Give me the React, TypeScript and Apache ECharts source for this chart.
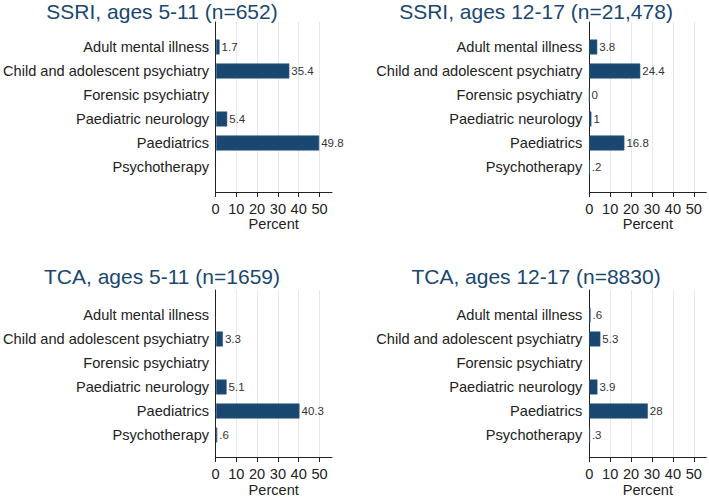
import React, { useEffect, useRef } from "react";
import * as echarts from "echarts";

const categories = [
  "Adult mental illness",
  "Child and adolescent psychiatry",
  "Forensic psychiatry",
  "Paediatric neurology",
  "Paediatrics",
  "Psychotherapy",
];

const panelTitles = [
  "SSRI, ages 5-11 (n=652)",
  "SSRI, ages 12-17 (n=21,478)",
  "TCA, ages 5-11 (n=1659)",
  "TCA, ages 12-17 (n=8830)",
];

const ssri511 = [1.7, 35.4, null, 5.4, 49.8, null];
const ssri1217 = [3.8, 24.4, 0, 1, 16.8, 0.2];
const tca511 = [null, 3.3, null, 5.1, 40.3, 0.6];
const tca1217 = [0.6, 5.3, null, 3.9, 28, 0.3];

const xTicks = [0, 10, 20, 30, 40, 50];
const xMax = 56;

const panelValues = [ssri511, ssri1217, tca511, tca1217];

const FONT = "'Liberation Sans', Arial, sans-serif";
const NAVY = "#1a476f";
const TEXT = "#222222";
const FS = 14.6;

// layout per panel: axis x position, top, bottom, width, title centre x
const layouts = [
  { x0: 215.5, top: 22, bottom: 192, width: 116.5, tx: 162, ttop: 0 },
  { x0: 589.3, top: 22, bottom: 192, width: 117, tx: 536, ttop: 0 },
  { x0: 215.5, top: 290, bottom: 460, width: 116.5, tx: 162, ttop: 265 },
  { x0: 589.3, top: 290, bottom: 460, width: 117, tx: 536, ttop: 265 },
];

function fmt(p: any) {
  const v = Array.isArray(p.value) ? p.value[0] : p.value;
  if (v === null || v === undefined || v === "-") return "";
  let s = String(v);
  if (s.startsWith("0.")) s = s.slice(1);
  return s;
}

function buildOption() {
  const grid: any[] = [];
  const xAxis: any[] = [];
  const yAxis: any[] = [];
  const series: any[] = [];
  const title: any[] = [];

  layouts.forEach((L, i) => {
    const h = L.bottom - L.top;
    grid.push({ left: L.x0, top: L.top, width: L.width, height: h, containLabel: false });
    grid.push({ left: L.x0, top: L.top + 13, width: L.width, height: 144, containLabel: false });

    xAxis.push({
      gridIndex: i * 2,
      type: "value",
      min: 0,
      max: xMax,
      interval: 10,
      axisLine: { show: true, lineStyle: { color: TEXT, width: 1 } },
      axisTick: { show: true, length: 5, customValues: xTicks, lineStyle: { color: TEXT } },
      axisLabel: {
        show: true,
        customValues: xTicks,
        fontSize: FS,
        fontFamily: FONT,
        color: TEXT,
        margin: 9,
      },
      splitLine: { show: true, lineStyle: { color: "#e1ebee", width: 1 } },
      name: "Percent",
      nameLocation: "middle",
      nameGap: 22,
      nameTextStyle: { fontSize: FS, fontFamily: FONT, color: TEXT },
    });
    xAxis.push({
      gridIndex: i * 2 + 1,
      type: "value",
      min: 0,
      max: xMax,
      show: false,
    });
    yAxis.push({
      gridIndex: i * 2,
      type: "value",
      min: 0,
      max: 1,
      axisLine: { show: true, lineStyle: { color: TEXT, width: 1 } },
      axisTick: { show: false },
      axisLabel: { show: false },
      splitLine: { show: false },
    });
    yAxis.push({
      gridIndex: i * 2 + 1,
      type: "category",
      inverse: true,
      data: categories,
      axisLine: { show: false },
      axisTick: { show: false },
      axisLabel: {
        show: true,
        fontSize: FS,
        fontFamily: FONT,
        color: TEXT,
        margin: 7,
      },
      splitLine: { show: false },
    });
    series.push({
      type: "bar",
      xAxisIndex: i * 2 + 1,
      yAxisIndex: i * 2 + 1,
      data: panelValues[i],
      barWidth: 15,
      itemStyle: { color: NAVY, borderColor: "#2b5a85", borderWidth: 0.6 },
      label: {
        show: true,
        position: "right",
        distance: 2,
        fontSize: 11.5,
        fontFamily: FONT,
        color: "#333333",
        formatter: fmt,
      },
    });
    title.push({
      text: panelTitles[i],
      left: L.tx,
      top: L.ttop,
      textAlign: "center",
      padding: 0,
      textStyle: {
        fontSize: 21,
        lineHeight: 23,
        fontWeight: "normal",
        fontFamily: FONT,
        color: NAVY,
      },
    });
  });

  return {
    animation: false,
    backgroundColor: "#ffffff",
    title,
    grid,
    xAxis,
    yAxis,
    series,
  };
}

export default function App() {
  const ref = useRef<HTMLDivElement>(null);
  useEffect(() => {
    if (!ref.current) return;
    const chart = echarts.init(ref.current, null, { renderer: "svg" });
    chart.setOption(buildOption() as any);
    return () => chart.dispose();
  }, []);
  return (
    <div
      ref={ref}
      style={{ position: "fixed", left: 0, top: 0, width: 709, height: 498, background: "#fff" }}
    />
  );
}
